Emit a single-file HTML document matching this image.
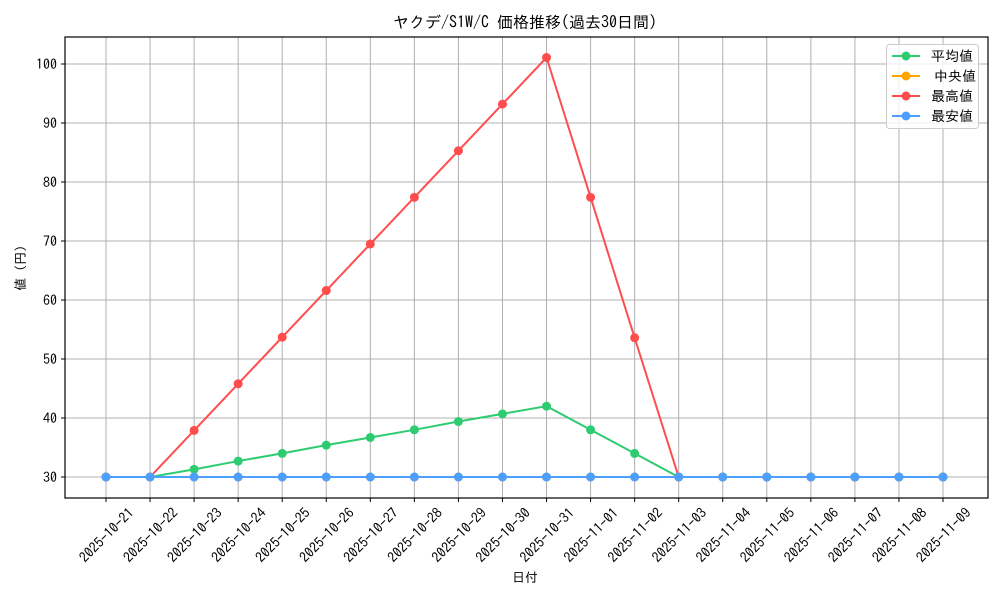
<!DOCTYPE html>
<html><head><meta charset="utf-8"><style>
body{margin:0;background:#fff}
svg{display:block;font-family:"IPAGothic","Liberation Sans","Noto Sans CJK JP",sans-serif}
</style></head><body>
<svg id="s" width="1000" height="600" xmlns="http://www.w3.org/2000/svg"></svg>
<script>
const L=65,R=988,T=37,B=498;
const x0=106,dx=(943-106)/19;
const y=v=>477-(v-30)*5.9;
const dates=["2025-10-21","2025-10-22","2025-10-23","2025-10-24","2025-10-25","2025-10-26","2025-10-27","2025-10-28","2025-10-29","2025-10-30","2025-10-31","2025-11-01","2025-11-02","2025-11-03","2025-11-04","2025-11-05","2025-11-06","2025-11-07","2025-11-08","2025-11-09"];
const mx=[30,30,37.9,45.8,53.7,61.6,69.5,77.4,85.3,93.2,101.1,77.4,53.6,30,30,30,30,30,30,30];
const av=[30,30,31.3,32.7,34,35.4,36.7,38,39.4,40.7,42,38,34,30,30,30,30,30,30,30];
const lo=Array(20).fill(30);
let h='';
h+=`<text x="525" y="28" font-size="16" text-anchor="middle">ヤクデ/S1W/C 価格推移(過去30日間)</text>`;
for(let i=0;i<20;i++){const x=x0+i*dx;
h+=`<line x1="${x}" y1="${T}" x2="${x}" y2="${B}" stroke="#b0b0b0" stroke-width="1"/>`;
h+=`<line x1="${x}" y1="${B}" x2="${x}" y2="${B+4}" stroke="#000"/>`;
h+=`<text transform="translate(${x+22},${B+9}) rotate(-45)" font-size="14" text-anchor="end" dominant-baseline="hanging">${dates[i]}</text>`;}
for(let v=30;v<=100;v+=10){const yy=y(v);
h+=`<line x1="${L}" y1="${yy}" x2="${R}" y2="${yy}" stroke="#b0b0b0" stroke-width="1"/>`;
h+=`<line x1="${L-4}" y1="${yy}" x2="${L}" y2="${yy}" stroke="#000"/>`;
h+=`<text x="${L-8}" y="${yy+5}" font-size="14" text-anchor="end">${v}</text>`;}
function ser(d,c){let p=d.map((v,i)=>`${x0+i*dx},${y(v)}`).join(' ');
let s=`<polyline points="${p}" fill="none" stroke="${c}" stroke-width="2"/>`;
d.forEach((v,i)=>s+=`<circle cx="${x0+i*dx}" cy="${y(v)}" r="4.5" fill="${c}"/>`);return s;}
h+=ser(mx,"#ff4d4d");h+=ser(av,"#2ecc71");h+=ser(lo,"#ffa500");h+=ser(lo,"#4d9fff");
h+=`<rect x="${L}" y="${T}" width="${R-L}" height="${B-T}" fill="none" stroke="#000" stroke-width="1.2"/>`;
h+=`<text x="525" y="582" font-size="13" text-anchor="middle">日付</text>`;
h+=`<text transform="translate(25,268) rotate(-90)" font-size="13" text-anchor="middle">値 (円)</text>`;
h+=`<rect x="886.5" y="44.5" width="92" height="84" rx="3" fill="#fff" fill-opacity="0.8" stroke="#ccc"/>`;
[["平均値","#2ecc71"],[" 中央値","#ffa500"],["最高値","#ff4d4d"],["最安値","#4d9fff"]].forEach((e,i)=>{const yy=56+i*20;
h+=`<line x1="892" y1="${yy}" x2="920" y2="${yy}" stroke="${e[1]}" stroke-width="2"/><circle cx="906" cy="${yy}" r="4.5" fill="${e[1]}"/>`;
h+=`<text x="${i==1?934:931}" y="${yy+5}" font-size="14">${e[0].trim()}</text>`;});
document.getElementById('s').innerHTML=h;
</script>
</body></html>
